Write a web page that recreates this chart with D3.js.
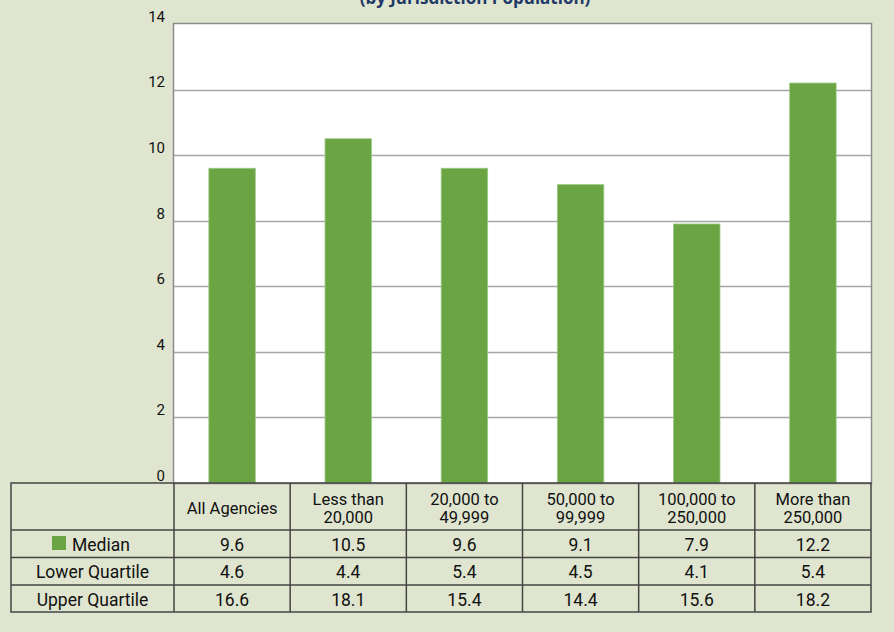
<!DOCTYPE html>
<html><head><meta charset="utf-8">
<script src="https://cdn.jsdelivr.net/npm/d3@7"></script>
<style>
html,body{margin:0;padding:0;background:#dfe5cf;}
svg{display:block;}
</style></head>
<body>
<svg id="chart" width="894" height="632"></svg>
<script>
const title = "(by Jurisdiction Population)";
const categories = ["All Agencies", "Less than\n20,000", "20,000 to\n49,999", "50,000 to\n99,999", "100,000 to\n250,000", "More than\n250,000"];
const median = [9.6, 10.5, 9.6, 9.1, 7.9, 12.2];
const lowerQuartile = [4.6, 4.4, 5.4, 4.5, 4.1, 5.4];
const upperQuartile = [16.6, 18.1, 15.4, 14.4, 15.6, 18.2];
const yTicks = [0, 2, 4, 6, 8, 10, 12, 14];
const rowLabels = ["Median", "Lower Quartile", "Upper Quartile"];

const font = "Roboto, 'Liberation Sans', sans-serif";
const svg = d3.select("#chart");
const plot = {left: 174, right: 871, top: 24, bottom: 483};
const tableLeft = 11;
const rowBounds = [483, 530, 557.5, 585, 612];

const x = d3.scaleBand().domain(categories.map((d,i)=>i)).range([plot.left, plot.right]).paddingInner(0).paddingOuter(0);
const y = d3.scaleLinear().domain([0, 14]).range([plot.bottom, plot.top]);

// title (cut at top, as in the reference)
svg.append("text").attr("x", 475).attr("y", 4).attr("text-anchor", "middle")
  .attr("font-family", "'Open Sans', sans-serif").attr("font-weight", "bold").attr("font-size", 17)
  .attr("fill", "#1f3a68").text(title);

// plot background
svg.append("rect").attr("x", plot.left).attr("y", plot.top).attr("width", plot.right-plot.left).attr("height", plot.bottom-plot.top).attr("fill", "#ffffff");

// gridlines
svg.append("g").selectAll("line").data(yTicks.filter(t=>t>0 && t<14)).join("line")
  .attr("x1", plot.left).attr("x2", plot.right).attr("y1", d=>Math.round(y(d))+0.5).attr("y2", d=>Math.round(y(d))+0.5)
  .attr("stroke", "#a6a6a6").attr("stroke-width", 1.3);

// bars
const bw = x.bandwidth()*0.4;
svg.append("g").selectAll("rect").data(median).join("rect")
  .attr("x", (d,i)=>x(i)+(x.bandwidth()-bw)/2).attr("width", bw)
  .attr("y", d=>y(d)).attr("height", d=>y(0)-y(d))
  .attr("fill", "#6aa443").attr("stroke", "#9cc885").attr("stroke-width", 0.8);

// plot border
svg.append("rect").attr("x", plot.left-0.5).attr("y", plot.top-0.5).attr("width", plot.right-plot.left+1).attr("height", plot.bottom-plot.top+1)
  .attr("fill", "none").attr("stroke", "#8c8c8c").attr("stroke-width", 1.5);

// y axis labels
const yAxis = d3.axisLeft(y).tickValues(yTicks).tickSize(0).tickPadding(0).tickFormat(d3.format("d"));
const ya = svg.append("g").attr("transform", `translate(${165},0)`).call(yAxis);
ya.select(".domain").remove();
ya.selectAll("text").attr("font-family", font).attr("font-size", 15).attr("fill", "#111").attr("dy", "-0.18em");

// table
const tg = svg.append("g");
const colEdges = [tableLeft].concat(categories.map((d,i)=>x(i))).concat([plot.right]);
tg.append("rect").attr("x", tableLeft).attr("y", rowBounds[0]).attr("width", plot.right-tableLeft).attr("height", rowBounds[4]-rowBounds[0])
  .attr("fill", "none").attr("stroke", "#444").attr("stroke-width", 1.5);
rowBounds.slice(1,4).forEach(r=>{
  tg.append("line").attr("x1", tableLeft).attr("x2", plot.right).attr("y1", r).attr("y2", r).attr("stroke", "#444").attr("stroke-width", 1.5);
});
colEdges.slice(1, colEdges.length-1).forEach(c=>{
  tg.append("line").attr("x1", c).attr("x2", c).attr("y1", rowBounds[0]).attr("y2", rowBounds[4]).attr("stroke", "#444").attr("stroke-width", 1.5);
});

// header labels
categories.forEach((c,i)=>{
  const lines = c.split("\n");
  const cx = x(i)+x.bandwidth()/2;
  const t = tg.append("text").attr("text-anchor", "middle").attr("font-family", font).attr("font-size", 16.5).attr("fill", "#111");
  if (lines.length === 1) {
    t.append("tspan").attr("x", cx).attr("y", 514).text(lines[0]);
  } else {
    t.append("tspan").attr("x", cx).attr("y", 505).text(lines[0]);
    t.append("tspan").attr("x", cx).attr("y", 522.5).text(lines[1]);
  }
});

// rows
const rows = [median, lowerQuartile, upperQuartile];
rows.forEach((vals, r)=>{
  const cy = (rowBounds[r+1]+rowBounds[r+2])/2 + 7;
  const lab = tg.append("text").attr("y", cy).attr("font-family", font).attr("font-size", 17.5).attr("fill", "#111").text(rowLabels[r]);
  if (r === 0) {
    lab.attr("x", 72);
    tg.append("rect").attr("x", 52).attr("y", 536).attr("width", 14).attr("height", 14).attr("fill", "#6aa443");
  } else {
    lab.attr("x", (tableLeft+plot.left)/2).attr("text-anchor", "middle");
  }
  vals.forEach((v,i)=>{
    tg.append("text").attr("x", x(i)+x.bandwidth()/2).attr("y", cy).attr("text-anchor", "middle")
      .attr("font-family", font).attr("font-size", 17.5).attr("fill", "#111").text(d3.format(".1f")(v));
  });
});
</script>
</body></html>
